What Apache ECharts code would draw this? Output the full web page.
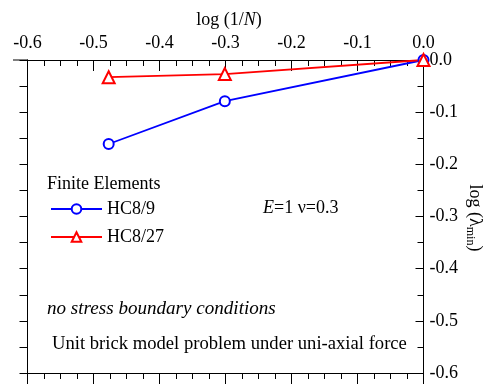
<!DOCTYPE html>
<html><head><meta charset="utf-8">
<script src="https://cdn.jsdelivr.net/npm/echarts@6/dist/echarts.min.js"></script>
<style>html,body{margin:0;padding:0;background:#fff}#c{width:483px;height:387px}</style>
</head><body><div id="c"></div>
<script>
// Data
const logInvN = [-0.477, -0.301, 0.0];
const hc89 = [-0.161, -0.079, 0.0];
const hc827 = [-0.033, -0.027, 0.0];
const seriesNames = ['HC8/9', 'HC8/27'];

const FONT = 'Liberation Serif, Times New Roman, serif';
const FS = 18;
const fmt = v => Math.abs(v) < 1e-9 ? '0.0' : v.toFixed(1);

const chart = echarts.init(document.getElementById('c'), null, {renderer: 'canvas'});
const axisLineStyle = {color: '#000', width: 1};

chart.setOption({
  backgroundColor: '#fff',
  animation: false,
  grid: {left: 27.5, top: 60, width: 396, height: 313, containLabel: false},
  xAxis: [
    {
      type: 'value', position: 'top', min: -0.6, max: 0, interval: 0.1,
      axisLine: {show: true, onZero: false, lineStyle: axisLineStyle},
      axisTick: {show: true, inside: true, length: 11, lineStyle: axisLineStyle},
      minorTick: {show: true, splitNumber: 4, length: 6, lineStyle: axisLineStyle},
      splitLine: {show: false},
      axisLabel: {show: true, formatter: fmt, fontFamily: FONT, fontSize: FS, color: '#000', margin: 8}
    },
    {
      type: 'value', position: 'bottom', min: -0.6, max: 0, interval: 0.1,
      axisLine: {show: true, onZero: false, lineStyle: axisLineStyle},
      axisTick: {show: true, inside: false, length: 11, lineStyle: axisLineStyle},
      minorTick: {show: true, splitNumber: 4, length: 6, lineStyle: axisLineStyle},
      splitLine: {show: false},
      axisLabel: {show: false}
    }
  ],
  yAxis: [
    {
      type: 'value', position: 'right', min: -0.6, max: 0, interval: 0.1,
      axisLine: {show: true, onZero: false, lineStyle: axisLineStyle},
      axisTick: {show: true, inside: true, length: 8, lineStyle: axisLineStyle},
      minorTick: {show: true, splitNumber: 2, length: 6, lineStyle: axisLineStyle},
      splitLine: {show: false},
      axisLabel: {show: true, formatter: fmt, fontFamily: FONT, fontSize: FS, color: '#000', margin: 6}
    },
    {
      type: 'value', position: 'left', min: -0.6, max: 0, interval: 0.05,
      axisLine: {show: true, onZero: false, lineStyle: axisLineStyle},
      axisTick: {show: true, inside: false, length: 8, lineStyle: axisLineStyle},
      splitLine: {show: false},
      axisLabel: {show: false}
    }
  ],
  legend: {
    orient: 'vertical', left: 50, top: 200, padding: 0,
    itemWidth: 51, itemHeight: 12, itemGap: 10,
    textStyle: {fontFamily: FONT, fontSize: FS, color: '#000', lineHeight: 18},
    data: seriesNames
  },
  series: [
    {
      name: seriesNames[0], type: 'line', xAxisIndex: 0, yAxisIndex: 0,
      data: logInvN.map((x, i) => [x, hc89[i]]),
      symbol: 'emptyCircle', symbolSize: 10, clip: false,
      lineStyle: {color: '#0000ff', width: 1.8},
      itemStyle: {color: '#0000ff', borderColor: '#0000ff', borderWidth: 1.5}
    },
    {
      name: seriesNames[1], type: 'line', xAxisIndex: 0, yAxisIndex: 0,
      data: logInvN.map((x, i) => [x, hc827[i]]),
      symbol: 'emptyTriangle', symbolSize: 12, clip: false,
      lineStyle: {color: '#ff0000', width: 1.8},
      itemStyle: {color: '#ff0000', borderColor: '#ff0000', borderWidth: 1.5}
    }
  ],
  graphic: [
    {type: 'line', shape: {x1: 13, y1: 60, x2: 28, y2: 60}, style: {stroke: '#000', lineWidth: 1}},
    {type: 'text', x: 229, y: 20, style: {
      text: 'log (1/{i|N})', font: FS + 'px ' + FONT, fill: '#000', align: 'center', verticalAlign: 'middle',
      rich: {i: {fontStyle: 'italic', fontFamily: FONT, fontSize: FS}}
    }},
    {type: 'text', x: 475, y: 218, rotation: -Math.PI / 2, style: {
      text: 'log (λ{s|min})', font: FS + 'px ' + FONT, fill: '#000', align: 'center', verticalAlign: 'middle',
      lineHeight: 22,
      rich: {s: {fontFamily: FONT, fontSize: 12, verticalAlign: 'bottom', lineHeight: 22}}
    }},
    {type: 'text', x: 47, y: 184, style: {
      text: 'Finite Elements', font: FS + 'px ' + FONT, fill: '#000', align: 'left', verticalAlign: 'middle'
    }},
    {type: 'text', x: 263, y: 208, style: {
      text: '{i|E}=1 ν=0.3', font: FS + 'px ' + FONT, fill: '#000', align: 'left', verticalAlign: 'middle',
      rich: {i: {fontStyle: 'italic', fontFamily: FONT, fontSize: FS}}
    }},
    {type: 'text', x: 47, y: 309, scaleX: 1.06, style: {
      text: 'no stress boundary conditions', font: 'italic ' + FS + 'px ' + FONT, fill: '#000', align: 'left', verticalAlign: 'middle'
    }},
    {type: 'text', x: 52, y: 344, scaleX: 1.035, style: {
      text: 'Unit brick model problem under uni-axial force', font: FS + 'px ' + FONT, fill: '#000', align: 'left', verticalAlign: 'middle'
    }}
  ]
});
</script>
</body></html>
